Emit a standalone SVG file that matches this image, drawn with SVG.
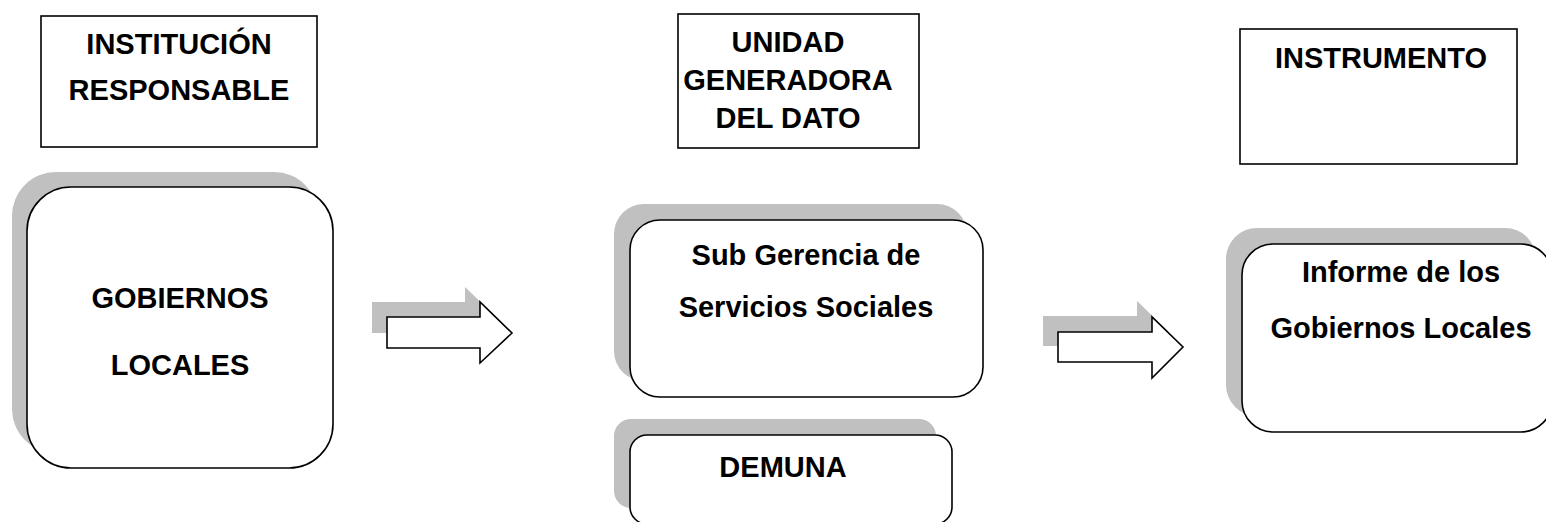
<svg xmlns="http://www.w3.org/2000/svg" width="1546" height="522" viewBox="0 0 1546 522">
<style>
.hdr{fill:#fff;stroke:#000;stroke-width:1.6}
.shadow{fill:#c0c0c0;stroke:none}
.box{fill:#fff;stroke:#000;stroke-width:1.6}
.arr{fill:#fff;stroke:#000;stroke-width:1.6;stroke-linejoin:miter}
text{font-family:"Liberation Sans",Arial,sans-serif;font-weight:bold;font-size:29px;fill:#000;text-anchor:middle}
</style>
<rect width="1546" height="522" fill="#fff"/>
<g id="hdr-institucion">
<rect class="hdr" x="41" y="16" width="276" height="131"/>
<text x="179" y="54">INSTITUCIÓN</text>
<text x="179" y="100">RESPONSABLE</text>
</g>
<g id="hdr-unidad">
<rect class="hdr" x="678" y="14" width="241" height="134"/>
<text x="788" y="52">UNIDAD</text>
<text x="788" y="90">GENERADORA</text>
<text x="788" y="128">DEL DATO</text>
</g>
<g id="hdr-instrumento">
<rect class="hdr" x="1240" y="29" width="277" height="135"/>
<text x="1381" y="68">INSTRUMENTO</text>
</g>
<g id="node-gobiernos">
<rect class="shadow" x="12" y="172" width="306" height="281" rx="44"/>
<rect class="box" x="27" y="187" width="306" height="281" rx="44"/>
<text x="180" y="308">GOBIERNOS</text>
<text x="180" y="375">LOCALES</text>
</g>
<g id="node-subgerencia">
<rect class="shadow" x="614" y="204" width="353" height="177" rx="30"/>
<rect class="box" x="630" y="220" width="353" height="177" rx="30"/>
<text x="806" y="265">Sub Gerencia de</text>
<text x="806" y="317">Servicios Sociales</text>
</g>
<g id="node-demuna">
<rect class="shadow" x="614" y="419" width="322" height="89" rx="17"/>
<rect class="box" x="630" y="435" width="322" height="89" rx="17"/>
<text x="783" y="477">DEMUNA</text>
</g>
<g id="node-informe">
<rect class="shadow" x="1226" y="228" width="310" height="188" rx="31"/>
<rect class="box" x="1242" y="244" width="310" height="188" rx="31"/>
<text x="1401" y="282">Informe de los</text>
<text x="1401" y="338">Gobiernos Locales</text>
</g>
<g id="connectors">
<polygon class="shadow" transform="translate(-15,-15)" points="387,317 480,317 480,302 512,333 480,363 480,348 387,348"/>
<polygon class="arr" points="387,317 480,317 480,302 512,333 480,363 480,348 387,348"/>
<polygon class="shadow" transform="translate(-15,-16)" points="1058,332 1152,332 1152,317 1183,347 1152,378 1152,362 1058,362"/>
<polygon class="arr" points="1058,332 1152,332 1152,317 1183,347 1152,378 1152,362 1058,362"/>
</g>
</svg>
